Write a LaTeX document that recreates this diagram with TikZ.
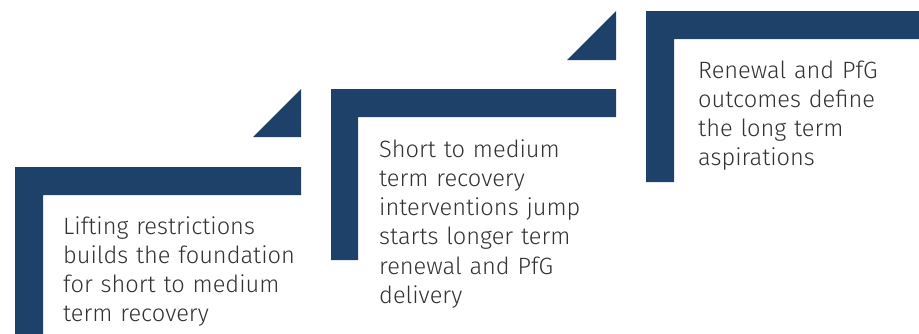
\documentclass[tikz,border=0pt]{standalone}
\usepackage{fontspec}
\setmainfont{Fira Sans}[UprightFont={* Light}]
\usepackage{tikz}
\definecolor{stepblue}{RGB}{30,65,105}
\definecolor{steptext}{RGB}{50,50,50}
\tikzset{
  bar/.style={fill=stepblue,draw=none},
  wedge/.style={fill=stepblue,draw=none},
  label/.style={anchor=base west,inner sep=0pt,text width=270pt,align=left,
    text=steptext,font=\fontsize{23.6pt}{29.3pt}\selectfont}
}
\begin{document}
\begin{tikzpicture}[x=1pt,y=-1pt]
    \useasboundingbox (0,0) rectangle (919,333);
    \clip (0,0) rectangle (919,333);
    \fill[bar] (15,167)--(301,167)--(301,195)--(43,195)--(43,338)--(15,338)--cycle;
    \fill[wedge] (253,137)--(301,137)--(301,89)--cycle;
    \fill[bar] (331,89)--(616,89)--(616,117)--(358,117)--(358,260)--(331,260)--cycle;
    \fill[wedge] (567,60)--(616,60)--(616,11)--cycle;
    \fill[bar] (646,11)--(932,11)--(932,39)--(674,39)--(674,182)--(646,182)--cycle;
    \node[label] (aa) at (63,234) {Lifting restrictions\\builds the foundation\\for short to medium\\term recovery};
    \node[label] (ab) at (379,157) {Short to medium\\term recovery\\interventions jump\\starts longer term\\renewal and PfG\\delivery};
    \node[label] (ac) at (698,78) {Renewal and PfG\\outcomes define\\the long term\\aspirations};
\end{tikzpicture}
\end{document}
